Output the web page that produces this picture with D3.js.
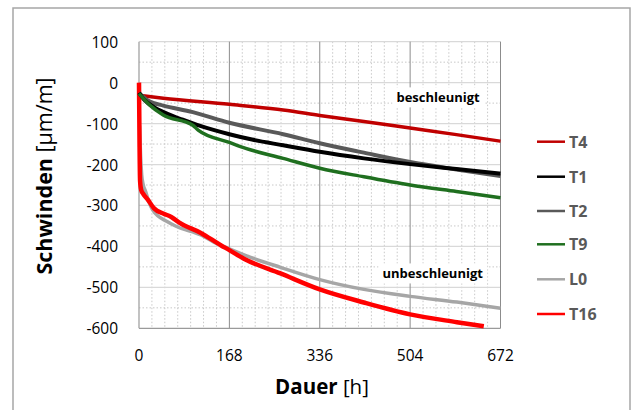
<!DOCTYPE html>
<html><head><meta charset="utf-8">
<script src="https://cdn.jsdelivr.net/npm/d3@7"></script>
<style>body{margin:0;background:#fff}svg{display:block}</style>
</head><body>
<script>
// ---- data ----
const seriesNames = ["T4","T1","T2","T9","L0","T16"];
const seriesColors = ["#c00000","#000000","#595959","#1f6f1f","#a6a6a6","#ff0000"];
const seriesWidths = [3.5,4,4,3.5,3.5,4.5];
const t4Hours = [0,45,168,268,336,418,504,590,672];
const t4Values = [-31,-38,-53,-67,-80,-95,-111,-127,-143];
const t1Hours = [0,10,28,53,80,108,140,168,210,268,336,418,504,590,672];
const t1Values = [-25,-42,-60,-76,-90,-103,-116,-126,-139,-153,-169,-185,-199,-211,-222];
const t2Hours = [0,15,28,45,100,168,268,336,418,504,590,672];
const t2Values = [-25,-42,-50,-56,-72,-98,-126,-148,-171,-194,-212,-228];
const t9Hours = [0,20,45,100,110,168,190,268,336,418,504,590,672];
const t9Values = [-27,-55,-79,-104,-116,-146,-157,-185,-209,-230,-250,-266,-281];
const l0Hours = [1,3,5,8,12,18,25,53,71,115,140,168,200,263,336,418,504,591,672];
const l0Values = [-105,-180,-225,-250,-265,-290,-310,-340,-352,-372,-390,-406,-423,-451,-481,-505,-522,-536,-551];
const t16Hours = [0,1,2,4,8,16,28,46,60,75,115,152,168,195,263,336,418,504,591,641];
const t16Values = [0,-150,-240,-262,-272,-285,-307,-320,-328,-342,-367,-397,-409,-430,-466,-505,-537,-566,-585,-595];
const xTicks = [0,168,336,504,672];
const yTicks = [100,0,-100,-200,-300,-400,-500,-600];
const annotations = [{text:"beschleunigt", h:556, v:-36},{text:"unbeschleunigt", h:546, v:-466}];

const hoursList = [t4Hours,t1Hours,t2Hours,t9Hours,l0Hours,t16Hours];
const valuesList = [t4Values,t1Values,t2Values,t9Values,l0Values,t16Values];

// ---- chart ----
const W = 631, H = 410;
const svg = d3.select("body").append("svg").attr("width",W).attr("height",H);
const x = d3.scaleLinear().domain([0,672]).range([139,500.5]);
const y = d3.scaleLinear().domain([-600,100]).range([328.3,41.7]);

// outer frame
svg.append("rect").attr("x",13).attr("y",8).attr("width",617).attr("height",420)
  .attr("fill","none").attr("stroke","#a6a6a6").attr("stroke-width",1.5);

const g = svg.append("g");
g.selectAll(".hmin").data(d3.range(-550,100,100)).enter().append("line")
  .attr("x1",x(0)).attr("x2",x(672)).attr("y1",d=>y(d)).attr("y2",d=>y(d))
  .attr("stroke","#c8c8c8").attr("stroke-width",1).attr("stroke-dasharray","1.5,2");
g.selectAll(".vmin").data(d3.range(24,672,24).filter(d=>d%168!==0)).enter().append("line")
  .attr("x1",d=>x(d)).attr("x2",d=>x(d)).attr("y1",y(100)).attr("y2",y(-600))
  .attr("stroke","#c8c8c8").attr("stroke-width",1).attr("stroke-dasharray","1.5,2");
g.selectAll(".hmaj").data(yTicks.filter(d=>d>-600)).enter().append("line")
  .attr("x1",x(0)).attr("x2",x(672)).attr("y1",d=>y(d)).attr("y2",d=>y(d))
  .attr("stroke","#d9d9d9").attr("stroke-width",1.2);
g.selectAll(".vmaj").data(xTicks.filter(d=>d>0)).enter().append("line")
  .attr("x1",d=>x(d)).attr("x2",d=>x(d)).attr("y1",y(100)).attr("y2",y(-600))
  .attr("stroke","#8c8c8c").attr("stroke-width",1);
g.append("line").attr("x1",x(0)).attr("x2",x(0)).attr("y1",y(100)).attr("y2",y(-600)).attr("stroke","#9a9a9a").attr("stroke-width",1.2);
g.append("line").attr("x1",x(0)).attr("x2",x(672)).attr("y1",y(-600)).attr("y2",y(-600)).attr("stroke","#9a9a9a").attr("stroke-width",1.2);

// lines
const line = d3.line().x(d=>x(d[0])).y(d=>y(d[1])).curve(d3.curveMonotoneX);
const order = [4,5,0,2,1,3];
order.forEach(i=>{
  const pts = hoursList[i].map((h,k)=>[h,valuesList[i][k]]);
  svg.append("path").attr("d",line(pts)).attr("fill","none")
    .attr("stroke",seriesColors[i]).attr("stroke-width",seriesWidths[i]).attr("stroke-linejoin","round");
});

// annotation boxes
const ann = svg.append("g");
annotations.forEach(a=>{
  const t = ann.append("text").attr("x",x(a.h)).attr("y",y(a.v)).attr("text-anchor","middle")
    .attr("dominant-baseline","central").attr("font-family","Open Sans").attr("font-weight","bold")
    .attr("font-size",13).attr("fill","#000").text(a.text);
  const bb = t.node().getBBox();
  ann.insert("rect","text").attr("x",bb.x-4).attr("y",bb.y-1).attr("width",bb.width+8).attr("height",bb.height+2).attr("fill","#fff");
});

// tick labels
svg.selectAll(".yt").data(yTicks).enter().append("text")
  .attr("x",118).attr("y",d=>y(d)).attr("text-anchor","end").attr("dominant-baseline","central")
  .attr("font-family","Open Sans").attr("font-size",15.5).attr("fill","#000").text(d=>d);
svg.selectAll(".xt").data(xTicks).enter().append("text")
  .attr("x",d=>x(d)).attr("y",355).attr("text-anchor","middle").attr("dominant-baseline","central")
  .attr("font-family","Open Sans").attr("font-size",15.5).attr("fill","#000").text(d=>d);

// axis titles
const yl = svg.append("text").attr("transform","translate(43,176) rotate(-90)").attr("text-anchor","middle")
  .attr("dominant-baseline","central").attr("font-family","Open Sans").attr("font-size",21.5).attr("fill","#000");
yl.append("tspan").attr("font-weight","bold").text("Schwinden");
yl.append("tspan").text(" [µm/m]");
const xl = svg.append("text").attr("x",322).attr("y",386).attr("text-anchor","middle")
  .attr("dominant-baseline","central").attr("font-family","Open Sans").attr("font-size",20.5).attr("fill","#000");
xl.append("tspan").attr("font-weight","bold").text("Dauer");
xl.append("tspan").text(" [h]");

// legend
const legY = [141.7,176.7,211,244.3,279.3,314];
const leg = svg.selectAll(".leg").data(seriesNames).enter().append("g");
leg.append("line").attr("x1",537).attr("x2",565).attr("y1",(d,i)=>legY[i]).attr("y2",(d,i)=>legY[i])
  .attr("stroke",(d,i)=>seriesColors[i]).attr("stroke-width",2.5);
leg.append("text").attr("x",569).attr("y",(d,i)=>legY[i]).attr("dominant-baseline","central")
  .attr("font-family","Open Sans").attr("font-weight","bold").attr("font-size",16).attr("fill","#595959").text(d=>d);
</script>
</body></html>
